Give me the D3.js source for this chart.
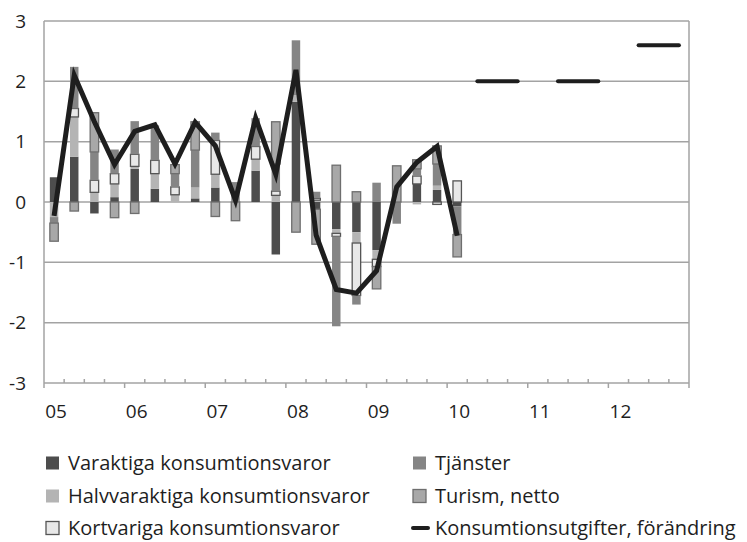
<!DOCTYPE html>
<html lang="sv">
<head>
<meta charset="UTF-8">
<title>Konsumtionsutgifter</title>
<style>
  body { margin: 0; background: #fff; }
  text { font-family: "Open Sans", "Liberation Sans", sans-serif; fill: #1e1e1e; }
</style>
</head>
<body>
<script src="https://cdn.jsdelivr.net/npm/d3@7"></script>
<div id="chart"></div>
<script>
// quarters 2005Q1 .. 2012Q4 on the category axis
const years = ['05', '06', '07', '08', '09', '10', '11', '12']
const quarters = years.flatMap(y => [1, 2, 3, 4].map(q => y + 'Q' + q))

// bar components, 2005Q1 .. 2010Q1 (percentage points)
const barQuarters = quarters.slice(0, 21)
const varaktiga = [0.41, 0.75, -0.19, 0.08, 0.55, 0.22, 0, 0.06, 0.24, 0, 0.52, -0.87, 1.66, -0.12, -0.45, -0.5, -0.8, 0, 0.3, 0.2, -0.07]
const halvvaraktiga = [-0.25, 0.66, 0.16, 0.22, 0.04, 0.25, 0.12, 0.18, 0.22, 0, 0.19, 0.11, 0.11, 0.03, -0.07, -0.18, -0.15, 0, -0.04, 0.07, 0]
const kortvariga = [0, 0.14, 0.2, 0.17, 0.2, 0.22, 0.13, 0, 0.56, 0, 0.21, 0.07, 0, 0.03, -0.05, -0.87, -0.12, 0, 0.13, -0.04, 0.35]
const tjanster = [-0.1, 0.69, 0.47, 0.4, 0.55, 0.58, 0.22, 0.62, 0.13, 0.33, 0.47, 0.45, 0.91, 0.11, -1.49, -0.15, 0.32, -0.36, 0.12, 0.36, -0.47]
const turism = [-0.3, -0.15, 0.65, -0.26, -0.19, 0, 0.15, 0.47, -0.24, -0.31, 0, 0.7, -0.5, -0.58, 0.61, 0.17, -0.37, 0.6, 0.15, 0.3, -0.37]

// total change, percent
const konsumtion = [-0.23, 2.1, 1.33, 0.62, 1.17, 1.28, 0.63, 1.32, 0.93, 0.03, 1.39, 0.46, 2.19, -0.55, -1.45, -1.51, -1.14, 0.25, 0.66, 0.92, -0.56]

// forecasts, annual, drawn over Q2..Q4 of each year
const prognosYears = ['10', '11', '12']
const prognos = [2.0, 2.0, 2.6]

const yTicks = [-3, -2, -1, 0, 1, 2, 3]

const series = [
  { key: 'Varaktiga konsumtionsvaror', values: varaktiga, fill: '#4d4d4d', stroke: null },
  { key: 'Halvvaraktiga konsumtionsvaror', values: halvvaraktiga, fill: '#b4b4b4', stroke: null },
  { key: 'Kortvariga konsumtionsvaror', values: kortvariga, fill: '#e8e8e8', stroke: '#555' },
  { key: 'Tjänster', values: tjanster, fill: '#858585', stroke: null },
  { key: 'Turism, netto', values: turism, fill: '#a8a8a8', stroke: '#6e6e6e' }
]

const rows = barQuarters.map((q, i) => {
  const r = { q }
  series.forEach(s => r[s.key] = s.values[i])
  return r
})

const svg = d3.select('#chart').append('svg')
  .attr('width', 747).attr('height', 542)

const x = d3.scaleBand().domain(quarters).range([44, 689])
const y = d3.scaleLinear().domain([-3, 3]).range([383, 21])
const barW = x.bandwidth() * 0.42

// grid
svg.append('g').selectAll('line').data(yTicks).join('line')
  .attr('x1', 44).attr('x2', 689)
  .attr('y1', d => y(d)).attr('y2', d => y(d))
  .attr('stroke', '#a3a3a3').attr('stroke-width', 1.5)
svg.append('line').attr('x1', 44).attr('x2', 44).attr('y1', y(3)).attr('y2', y(-3))
  .attr('stroke', '#a3a3a3').attr('stroke-width', 1.5)
svg.append('line').attr('x1', 689).attr('x2', 689).attr('y1', y(3)).attr('y2', y(-3))
  .attr('stroke', '#a3a3a3').attr('stroke-width', 1.5)

// y labels
svg.append('g').selectAll('text').data(yTicks).join('text')
  .attr('x', 26).attr('y', d => y(d)).attr('dy', '0.35em')
  .attr('text-anchor', 'end').attr('font-size', 19)
  .text(d => d)

// x ticks: minor at every quarter boundary, longer at year start
const axisY = y(-3)
svg.append('g').selectAll('line').data(quarters.concat(['end'])).join('line')
  .attr('x1', (d, i) => 44 + i * x.step()).attr('x2', (d, i) => 44 + i * x.step())
  .attr('y1', (d, i) => i % 4 === 0 ? axisY : axisY - 4)
  .attr('y2', (d, i) => i % 4 === 0 ? axisY + 5 : axisY)
  .attr('stroke', '#a3a3a3').attr('stroke-width', 1.5)

svg.append('g').selectAll('text').data(years).join('text')
  .attr('x', d => x(d + 'Q1') + x.bandwidth() / 2 + 2)
  .attr('y', 418)
  .attr('text-anchor', 'middle').attr('font-size', 19)
  .text(d => d)

// stacked bars
const stack = d3.stack().keys(series.map(s => s.key)).offset(d3.stackOffsetDiverging)
const stacked = stack(rows)

svg.append('g').selectAll('g').data(stacked).join('g')
  .each(function (layer, li) {
    const s = series[li]
    d3.select(this).selectAll('rect')
      .data(layer.filter(d => d[1] - d[0] !== 0))
      .join('rect')
      .attr('x', d => x(d.data.q) + x.bandwidth() / 2 - barW / 2)
      .attr('width', barW)
      .attr('y', d => y(Math.max(d[0], d[1])))
      .attr('height', d => Math.abs(y(d[0]) - y(d[1])))
      .attr('fill', s.fill)
      .attr('stroke', s.stroke || 'none')
      .attr('stroke-width', 1.3)
  })

// total line
const line = d3.line()
  .x((d, i) => x(barQuarters[i]) + x.bandwidth() / 2)
  .y(d => y(d))
svg.append('path').datum(konsumtion)
  .attr('d', line)
  .attr('fill', 'none').attr('stroke', '#1e1e1e').attr('stroke-width', 5)
  .attr('stroke-linejoin', 'miter')

// forecast segments
svg.append('g').selectAll('line').data(prognosYears).join('line')
  .attr('x1', d => x(d + 'Q2') + x.bandwidth() / 2)
  .attr('x2', d => x(d + 'Q4') + x.bandwidth() / 2)
  .attr('y1', (d, i) => y(prognos[i])).attr('y2', (d, i) => y(prognos[i]))
  .attr('stroke', '#1e1e1e').attr('stroke-width', 4).attr('stroke-linecap', 'round')

// legend
const legendItems = [
  { s: series[0], col: 0, row: 0 },
  { s: series[1], col: 0, row: 1 },
  { s: series[2], col: 0, row: 2 },
  { s: series[3], col: 1, row: 0 },
  { s: series[4], col: 1, row: 1 }
]
const colX = [46, 413]
const rowY = [463, 496, 528]
const lg = svg.append('g')
legendItems.forEach(it => {
  lg.append('rect')
    .attr('x', colX[it.col]).attr('y', rowY[it.row] - 6.5)
    .attr('width', 13).attr('height', 13)
    .attr('fill', it.s.fill)
    .attr('stroke', it.s.stroke || 'none').attr('stroke-width', 1.3)
  lg.append('text')
    .attr('x', colX[it.col] + 22).attr('y', rowY[it.row]).attr('dy', '0.35em')
    .attr('font-size', 20)
    .text(it.s.key)
})
lg.append('line')
  .attr('x1', colX[1]).attr('x2', colX[1] + 15)
  .attr('y1', rowY[2]).attr('y2', rowY[2])
  .attr('stroke', '#1e1e1e').attr('stroke-width', 4).attr('stroke-linecap', 'round')
lg.append('text')
  .attr('x', colX[1] + 22).attr('y', rowY[2]).attr('dy', '0.35em')
  .attr('font-size', 20)
  .text('Konsumtionsutgifter, förändring')
</script>
</body>
</html>
